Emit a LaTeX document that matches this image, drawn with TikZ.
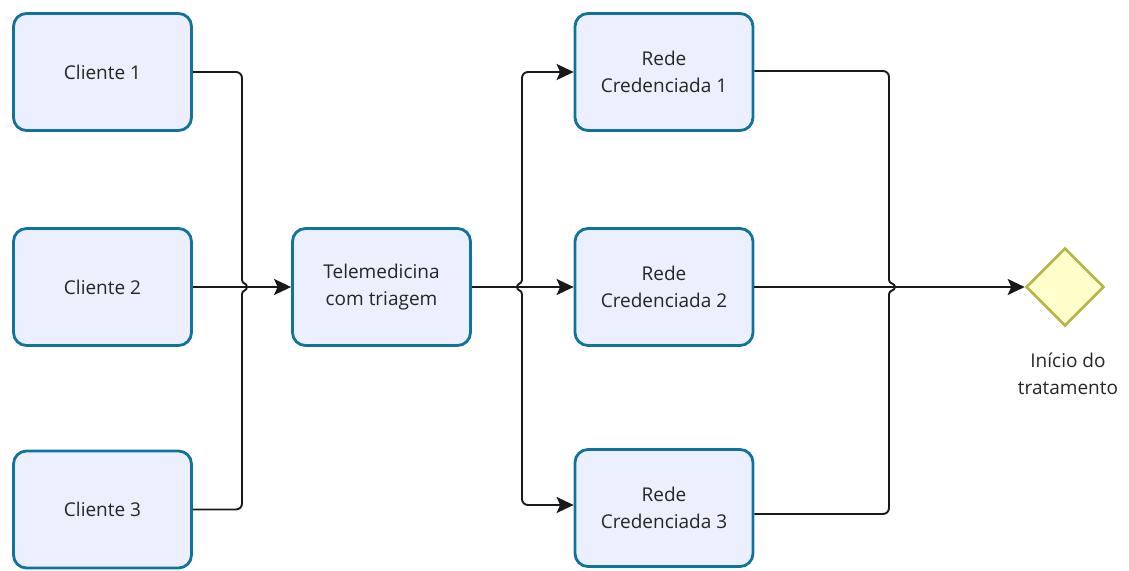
\documentclass[tikz,border=0pt]{standalone}
\usepackage{fontspec}
\setmainfont{Open Sans}
\usetikzlibrary{arrows.meta,shapes.geometric,calc}
\definecolor{boxfill}{HTML}{ECEFFD}
\definecolor{boxdraw}{HTML}{10739E}
\definecolor{gwfill}{HTML}{FFFFCC}
\definecolor{gwdraw}{HTML}{B5B54A}
\definecolor{txt}{HTML}{262626}
\begin{document}
\begin{tikzpicture}[x=1pt,y=-1pt,
 task/.style={draw=boxdraw, fill=boxfill, line width=2.8pt, rounded corners=13pt,
   minimum width=178pt, minimum height=117pt, align=center,
   font=\fontsize{19}{27}\selectfont, text=txt, inner sep=0pt},
 gateway/.style={diamond, draw=gwdraw, fill=gwfill, line width=2.6pt,
   minimum width=78pt, minimum height=78pt, inner sep=0pt},
 conn/.style={draw=black!90, line width=1.9pt},
 arr/.style={conn, -{Stealth[length=17pt,width=16pt,inset=3.5pt]}},
]
\useasboundingbox (0,0) rectangle (1129,570);

\node[task] (c1) at (102.5,72) {Cliente 1};
\node[task] (c2) at (102.5,287) {Cliente 2};
\node[task] (c3) at (102.5,509.5) {Cliente 3};
\node[task] (tele) at (381.5,287) {Telemedicina\\com triagem};
\node[task] (r1) at (664,72) {Rede\\Credenciada 1};
\node[task] (r2) at (664,287) {Rede\\Credenciada 2};
\node[task] (r3) at (664,508) {Rede\\Credenciada 3};
\node[gateway] (gw) at (1065,287) {};
\node[align=center, text=txt, font=\fontsize{19}{27}\selectfont, anchor=north]
  (gwl) at (1068,349) {Início do\\tratamento};

% left merge
\coordinate (hL) at (247,287);
\coordinate (vLt) at (242,280);
\coordinate (vLb) at (242,294);
\draw[conn, rounded corners=6pt] (c1.east) -| (vLt);
\draw[conn] (vLt) .. controls (242,284) and (247,283) .. (hL);
\draw[conn, rounded corners=6pt] (c3.east) -| (vLb);
\draw[conn] (vLb) .. controls (242,290) and (247,291) .. (hL);
\draw[arr] (c2.east) -- (tele.west);

% split after telemedicina
\coordinate (hM) at (517,287);
\coordinate (vMt) at (522,280);
\coordinate (vMb) at (522,294);
\draw[arr] (tele.east) -- (r2.west);
\draw[conn] (hM) .. controls (517,283) and (522,284) .. (vMt);
\draw[conn] (hM) .. controls (517,291) and (522,290) .. (vMb);
\draw[arr, rounded corners=6pt] (vMt) |- (r1.west);
\draw[arr, rounded corners=6pt] (vMb) |- ($(r3.west)+(0,-3)$);

% right merge
\coordinate (hR) at (895,287);
\coordinate (vRt) at (889,280);
\coordinate (vRb) at (889,294);
\draw[conn, rounded corners=6pt] ($(r1.east)+(0,-1)$) -| (vRt);
\draw[conn] (vRt) .. controls (889,284) and (895,283) .. (hR);
\draw[conn, rounded corners=6pt] ($(r3.east)+(0,6)$) -| (vRb);
\draw[conn] (vRb) .. controls (889,290) and (895,291) .. (hR);
\draw[arr] (r2.east) -- (gw.west);
\end{tikzpicture}
\end{document}
